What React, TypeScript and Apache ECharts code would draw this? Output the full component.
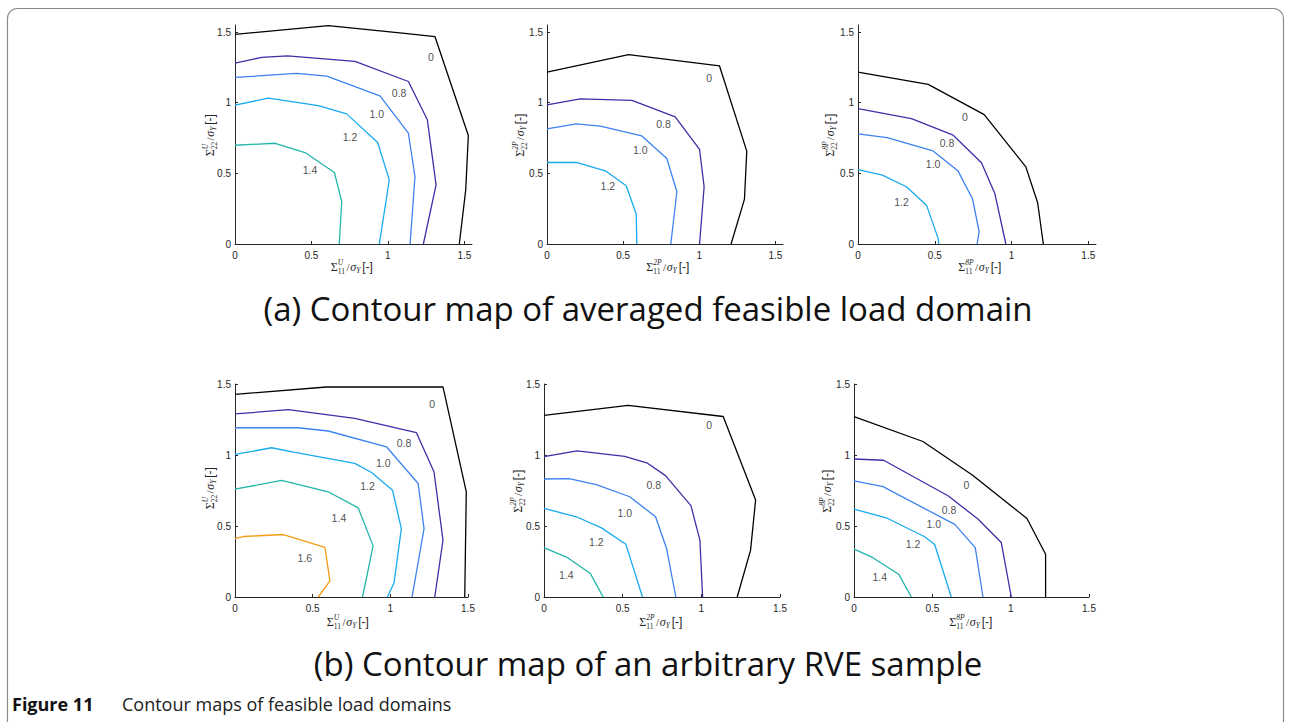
import React, { useEffect, useRef } from "react";
import * as echarts from "echarts";

// ---------- data ----------
const tickValues = [0, 0.5, 1, 1.5];
const tickLabels = ["0", "0.5", "1", "1.5"];
const levelColors: Record<string, string> = {
  "0": "#000000",
  "0.8": "#3d2fa8",
  "1.0": "#3c82f0",
  "1.2": "#17aaef",
  "1.4": "#22b5aa",
  "1.6": "#f59c12",
};

// (a) averaged, U
const aU_0 = [[0, 1.484], [0.61, 1.545], [1.11, 1.49], [1.308, 1.467], [1.526, 0.768], [1.509, 0.383], [1.467, 0]];
const aU_08 = [[0, 1.28], [0.174, 1.321], [0.344, 1.332], [0.785, 1.292], [1.134, 1.15], [1.258, 0.879], [1.315, 0.418], [1.232, 0]];
const aU_10 = [[0, 1.179], [0.403, 1.207], [0.6, 1.188], [0.948, 1.049], [1.134, 0.784], [1.177, 0.477], [1.145, 0]];
const aU_12 = [[0, 0.983], [0.218, 1.032], [0.545, 0.98], [0.73, 0.921], [0.933, 0.718], [1.009, 0.454], [0.944, 0]];
const aU_14 = [[0, 0.699], [0.262, 0.713], [0.458, 0.647], [0.65, 0.506], [0.698, 0.3], [0.682, 0]];
const aU_labels = [[1.282, 1.323, "0"], [1.073, 1.072, "0.8"], [0.927, 0.919, "1.0"], [0.752, 0.754, "1.2"], [0.49, 0.524, "1.4"]];

// (a) averaged, 2P
const a2P_0 = [[0, 1.217], [0.536, 1.34], [1.133, 1.26], [1.312, 0.657], [1.297, 0.318], [1.209, 0]];
const a2P_08 = [[0, 0.984], [0.219, 1.027], [0.558, 1.017], [0.842, 0.899], [1.002, 0.669], [1.032, 0.405], [1.002, 0]];
const a2P_10 = [[0, 0.815], [0.192, 0.85], [0.35, 0.834], [0.623, 0.765], [0.787, 0.605], [0.853, 0.37], [0.813, 0]];
const a2P_12 = [[0, 0.577], [0.192, 0.577], [0.383, 0.518], [0.52, 0.412], [0.586, 0.212], [0.59, 0]];
const a2P_labels = [[1.065, 1.175, "0"], [0.765, 0.848, "0.8"], [0.612, 0.664, "1.0"], [0.4, 0.412, "1.2"]];

// (a) averaged, 8P
const a8P_0 = [[0, 1.217], [0.457, 1.13], [0.822, 0.916], [1.093, 0.546], [1.17, 0.292], [1.207, 0]];
const a8P_08 = [[0, 0.958], [0.348, 0.888], [0.62, 0.77], [0.804, 0.575], [0.891, 0.358], [0.963, 0]];
const a8P_10 = [[0, 0.779], [0.189, 0.753], [0.489, 0.659], [0.652, 0.516], [0.746, 0.318], [0.789, 0.087], [0.776, 0]];
const a8P_12 = [[0, 0.527], [0.159, 0.487], [0.315, 0.405], [0.446, 0.275], [0.522, 0.04], [0.526, 0]];
const a8P_labels = [[0.696, 0.899, "0"], [0.58, 0.716, "0.8"], [0.489, 0.565, "1.0"], [0.283, 0.294, "1.2"]];

// (b) arbitrary sample, U
const bU_0 = [[0, 1.427], [0.589, 1.479], [1.339, 1.479], [1.489, 0.741], [1.479, 0]];
const bU_08 = [[0, 1.289], [0.343, 1.319], [0.771, 1.258], [1.168, 1.157], [1.281, 0.882], [1.339, 0.4], [1.286, 0]];
const bU_10 = [[0, 1.192], [0.407, 1.192], [0.6, 1.169], [0.975, 1.058], [1.179, 0.799], [1.217, 0.482], [1.14, 0]];
const bU_12 = [[0, 1.004], [0.236, 1.051], [0.386, 1.018], [0.771, 0.941], [0.879, 0.877], [1.014, 0.752], [1.071, 0.482], [1.024, 0.101], [0.981, 0]];
const bU_14 = [[0, 0.759], [0.3, 0.821], [0.6, 0.741], [0.793, 0.628], [0.889, 0.36], [0.821, 0]];
const bU_16 = [[0, 0.411], [0.054, 0.426], [0.311, 0.44], [0.579, 0.35], [0.611, 0.113], [0.536, 0]];
const bU_labels = [[1.269, 1.357, "0"], [1.089, 1.082, "0.8"], [0.954, 0.945, "1.0"], [0.853, 0.783, "1.2"], [0.669, 0.557, "1.4"], [0.45, 0.275, "1.6"]];

// (b) arbitrary sample, 2P
const b2P_0 = [[0, 1.279], [0.535, 1.349], [1.139, 1.271], [1.345, 0.683], [1.313, 0.33], [1.228, 0]];
const b2P_08 = [[0, 0.989], [0.21, 1.029], [0.513, 0.991], [0.658, 0.942], [0.772, 0.855], [0.934, 0.643], [0.991, 0.4], [1.008, 0]];
const b2P_10 = [[0, 0.831], [0.159, 0.834], [0.333, 0.791], [0.545, 0.706], [0.709, 0.565], [0.779, 0.341], [0.838, 0]];
const b2P_12 = [[0, 0.624], [0.206, 0.565], [0.365, 0.487], [0.52, 0.372], [0.626, 0]];
const b2P_14 = [[0, 0.348], [0.153, 0.275], [0.295, 0.165], [0.376, 0]];
const b2P_labels = [[1.05, 1.208, "0"], [0.698, 0.789, "0.8"], [0.513, 0.589, "1.0"], [0.333, 0.389, "1.2"], [0.142, 0.153, "1.4"]];

// (b) arbitrary sample, 8P
const b8P_0 = [[0, 1.271], [0.44, 1.095], [0.755, 0.859], [1.104, 0.553], [1.223, 0.301], [1.223, 0]];
const b8P_08 = [[0, 0.972], [0.189, 0.963], [0.6, 0.713], [0.791, 0.549], [0.94, 0.384], [1.004, 0]];
const b8P_10 = [[0, 0.817], [0.185, 0.777], [0.643, 0.511], [0.774, 0.348], [0.823, 0]];
const b8P_12 = [[0, 0.619], [0.206, 0.558], [0.451, 0.424], [0.515, 0.37], [0.621, 0]];
const b8P_14 = [[0, 0.337], [0.111, 0.283], [0.287, 0.158], [0.366, 0]];
const b8P_labels = [[0.717, 0.789, "0"], [0.606, 0.612, "0.8"], [0.509, 0.511, "1.0"], [0.377, 0.37, "1.2"], [0.164, 0.141, "1.4"]];

const titleA = "(a) Contour map of averaged feasible load domain";
const titleB = "(b) Contour map of an arbitrary RVE sample";
const captionBold = "Figure 11";
const captionText = "Contour maps of feasible load domains";

// ---------- layout ----------
const panels = [
  { grid: { left: 235, top: 25, width: 237, height: 219 }, max: 1.55, sup: "U", xl: [353, 267], yl: [210, 134],
    curves: [["0", aU_0], ["0.8", aU_08], ["1.0", aU_10], ["1.2", aU_12], ["1.4", aU_14]], labels: aU_labels },
  { grid: { left: 547, top: 25, width: 236, height: 219 }, max: 1.55, sup: "2P", xl: [669, 267], yl: [520, 134],
    curves: [["0", a2P_0], ["0.8", a2P_08], ["1.0", a2P_10], ["1.2", a2P_12]], labels: a2P_labels },
  { grid: { left: 858, top: 25, width: 238, height: 219 }, max: 1.55, sup: "8P", xl: [981, 267], yl: [830, 134],
    curves: [["0", a8P_0], ["0.8", a8P_08], ["1.0", a8P_10], ["1.2", a8P_12]], labels: a8P_labels },
  { grid: { left: 235, top: 384, width: 233, height: 213 }, max: 1.5, sup: "U", xl: [349, 622], yl: [210, 487],
    curves: [["0", bU_0], ["0.8", bU_08], ["1.0", bU_10], ["1.2", bU_12], ["1.4", bU_14], ["1.6", bU_16]], labels: bU_labels },
  { grid: { left: 544, top: 384, width: 236, height: 213 }, max: 1.5, sup: "2P", xl: [662, 622], yl: [518, 490],
    curves: [["0", b2P_0], ["0.8", b2P_08], ["1.0", b2P_10], ["1.2", b2P_12], ["1.4", b2P_14]], labels: b2P_labels },
  { grid: { left: 854, top: 384, width: 235, height: 213 }, max: 1.5, sup: "8P", xl: [972, 622], yl: [827, 490],
    curves: [["0", b8P_0], ["0.8", b8P_08], ["1.0", b8P_10], ["1.2", b8P_12], ["1.4", b8P_14]], labels: b8P_labels },
];

const AX = "#262626";

function fmtTick(v: number) {
  const i = tickValues.findIndex((t) => Math.abs(t - v) < 1e-6);
  return i >= 0 ? tickLabels[i] : "";
}

function txt(text: string, x: number, y: number, font: string, align = "left") {
  return {
    type: "text",
    x,
    y,
    silent: true,
    style: { text, font, fill: AX, textAlign: align, align, textVerticalAlign: "middle", verticalAlign: "middle" },
  };
}

function mathLabel(cx: number, cy: number, sup: string, sub: string, rotate: boolean) {
  const serif = '"Liberation Serif", "DejaVu Serif", serif';
  const sigW = 7;
  const scriptW = Math.max(sup.length * 4.4, sub.length * 3.9);
  const slashW = 3.6;
  const sigmaW = 6;
  const yW = 5;
  const brW = 13;
  const W = sigW + scriptW + 1 + slashW + sigmaW + yW + 1 + brW;
  let x = -W / 2;
  const ch: any[] = [];
  ch.push(txt("Σ", x, 0, `12px ${serif}`));
  x += sigW;
  ch.push(txt(sup, x, -4.5, `italic 7.5px ${serif}`));
  ch.push(txt(sub, x, 4.5, `7.5px ${serif}`));
  x += scriptW + 1;
  ch.push(txt("/", x, 0, `11px ${serif}`));
  x += slashW;
  ch.push(txt("σ", x, 0, `italic 12px ${serif}`));
  x += sigmaW;
  ch.push(txt("Y", x, 3, `italic 7.5px ${serif}`));
  x += yW + 1;
  ch.push(txt("[-]", x, 0, `12px "Liberation Sans", Arial, sans-serif`));
  return {
    type: "group",
    x: cx,
    y: cy,
    rotation: rotate ? Math.PI / 2 : 0,
    children: ch,
  };
}

export default function App() {
  const ref = useRef<HTMLDivElement>(null);
  useEffect(() => {
    if (!ref.current) return;
    const chart = echarts.init(ref.current, undefined, { renderer: "svg" });
    const grids: any[] = [];
    const xAxes: any[] = [];
    const yAxes: any[] = [];
    const series: any[] = [];
    const graphics: any[] = [];

    panels.forEach((p, i) => {
      grids.push({ ...p.grid, containLabel: false });
      const axisCommon = {
        gridIndex: i,
        type: "value",
        min: 0,
        max: p.max,
        interval: 0.5,
        axisLine: { show: true, onZero: false, lineStyle: { color: AX, width: 1 } },
        axisTick: { show: true, inside: true, length: 3, lineStyle: { color: AX, width: 1 } },
        splitLine: { show: false },
        axisLabel: {
          fontSize: 10,
          color: AX,
          fontFamily: '"Liberation Sans", Arial, sans-serif',
          formatter: (v: number) => fmtTick(v),
          showMaxLabel: p.max === 1.5,
          showMinLabel: true,
        },
      };
      xAxes.push({ ...axisCommon, axisLabel: { ...axisCommon.axisLabel, margin: 6 } });
      yAxes.push({ ...axisCommon, axisLabel: { ...axisCommon.axisLabel, margin: 4 } });

      p.curves.forEach(([lvl, pts]: any) => {
        series.push({
          type: "line",
          xAxisIndex: i,
          yAxisIndex: i,
          data: pts,
          showSymbol: false,
          symbol: "none",
          silent: true,
          lineStyle: { color: levelColors[lvl], width: 1.3 },
          z: 3,
        });
      });
      series.push({
        type: "scatter",
        xAxisIndex: i,
        yAxisIndex: i,
        data: p.labels,
        symbolSize: 0,
        silent: true,
        z: 4,
        itemStyle: { color: "#1a1a1a" },
        label: {
          show: true,
          position: "inside",
          formatter: (d: any) => d.value[2],
          fontSize: 10.5,
          color: "#1a1a1a",
          fontFamily: '"Liberation Sans", Arial, sans-serif',
        },
      });

      graphics.push(mathLabel(p.xl[0], p.xl[1], p.sup, "11", false));
      graphics.push(mathLabel(p.yl[0], p.yl[1], p.sup, "22", true));
    });

    graphics.push({
      type: "rect",
      silent: true,
      shape: { x: 7.5, y: 8.5, width: 1276, height: 730, r: 10 },
      style: { fill: "none", stroke: "#8a8a8a", lineWidth: 1.2 },
      z: -1,
    });
    const titleFont = '33px "Open Sans", "Noto Sans", sans-serif';
    graphics.push({
      type: "text",
      x: 648,
      y: 308,
      silent: true,
      style: { text: titleA, font: titleFont, fill: "#111", textAlign: "center", align: "center", textVerticalAlign: "middle", verticalAlign: "middle" },
    });
    graphics.push({
      type: "text",
      x: 648,
      y: 663,
      silent: true,
      style: { text: titleB, font: titleFont, fill: "#111", textAlign: "center", align: "center", textVerticalAlign: "middle", verticalAlign: "middle" },
    });
    graphics.push({
      type: "text",
      x: 12,
      y: 704,
      silent: true,
      style: { text: captionBold, font: 'bold 18px "Open Sans", "Noto Sans", sans-serif', fill: "#111", textAlign: "left", align: "left", textVerticalAlign: "middle", verticalAlign: "middle" },
    });
    graphics.push({
      type: "text",
      x: 122,
      y: 704,
      silent: true,
      style: { text: captionText, font: '18px "Open Sans", "Noto Sans", sans-serif', fill: "#222", textAlign: "left", align: "left", textVerticalAlign: "middle", verticalAlign: "middle" },
    });

    chart.setOption({
      animation: false,
      backgroundColor: "#ffffff",
      grid: grids,
      xAxis: xAxes,
      yAxis: yAxes,
      series,
      graphic: graphics,
    });
    return () => chart.dispose();
  }, []);
  return (
    <div
      ref={ref}
      style={{ position: "absolute", left: 0, top: 0, width: 1291, height: 722, background: "#fff" }}
    />
  );
}
